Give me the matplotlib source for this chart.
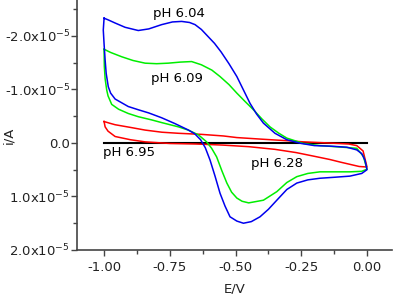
import matplotlib
matplotlib.use("Agg")
import matplotlib.pyplot as plt
from matplotlib.ticker import FixedLocator, FixedFormatter, MultipleLocator

plt.rcParams['font.family'] = ['DejaVu Sans']
plt.rcParams['axes.unicode_minus'] = False

SCALE = 1e-5

# pH 6.04 (blue) : potential (V) and current (units of 1e-5 A)
blue_E = [-1.000, -0.985, -0.958, -0.920, -0.870, -0.830, -0.781, -0.740, -0.705, -0.675,
          -0.654, -0.630, -0.605, -0.580, -0.555, -0.525, -0.495, -0.470, -0.445, -0.420,
          -0.394, -0.350, -0.305, -0.250, -0.200, -0.140, -0.077, -0.039, -0.020, -0.008,
          0.000,
          -0.020, -0.065, -0.120, -0.179, -0.225, -0.267, -0.305, -0.343, -0.375, -0.407,
          -0.440, -0.470, -0.495, -0.521, -0.540, -0.559, -0.578, -0.597, -0.615, -0.633,
          -0.655, -0.679, -0.730, -0.781, -0.830, -0.870, -0.908, -0.933, -0.958, -0.975,
          -0.984, -0.992, -0.996, -1.000, -1.003, -1.000]
blue_i = [-2.33, -2.30, -2.24, -2.16, -2.10, -2.13, -2.21, -2.26, -2.27, -2.25,
          -2.21, -2.12, -1.99, -1.86, -1.70, -1.48, -1.24, -0.99, -0.74, -0.54,
          -0.37, -0.18, -0.06, 0.01, 0.05, 0.06, 0.08, 0.13, 0.20, 0.32,
          0.50,
          0.57, 0.62, 0.64, 0.66, 0.69, 0.75, 0.87, 1.07, 1.24, 1.38,
          1.47, 1.50, 1.46, 1.38, 1.18, 0.94, 0.62, 0.32, 0.09, -0.06,
          -0.17, -0.24, -0.36, -0.47, -0.56, -0.62, -0.68, -0.75, -0.82, -0.93,
          -1.05, -1.30, -1.55, -1.85, -2.11, -2.33]

# pH 6.09 (green)
green_E = [-1.000, -0.975, -0.933, -0.890, -0.844, -0.800, -0.756, -0.710, -0.667, -0.630,
           -0.590, -0.559, -0.525, -0.495, -0.465, -0.432, -0.400, -0.369, -0.335, -0.305,
           -0.242, -0.180, -0.120, -0.039, -0.014, 0.000,
           -0.020, -0.065, -0.120, -0.179, -0.225, -0.267, -0.305, -0.343, -0.394, -0.450,
           -0.475, -0.495, -0.515, -0.533, -0.552, -0.572, -0.591, -0.610, -0.641, -0.680,
           -0.717, -0.781, -0.819, -0.870, -0.908, -0.945, -0.971, -0.985, -0.990, -0.996,
           -0.999, -1.000]
green_i = [-1.75, -1.69, -1.61, -1.54, -1.49, -1.48, -1.49, -1.51, -1.52, -1.46,
           -1.36, -1.24, -1.09, -0.93, -0.78, -0.62, -0.45, -0.30, -0.18, -0.09,
           0.01, 0.05, 0.07, 0.10, 0.25, 0.49,
           0.53, 0.54, 0.54, 0.54, 0.57, 0.63, 0.74, 0.91, 1.07, 1.12,
           1.09, 1.03, 0.92, 0.75, 0.52, 0.26, 0.10, -0.02, -0.15, -0.24,
           -0.30, -0.38, -0.43, -0.49, -0.55, -0.63, -0.72, -0.88, -0.99, -1.20,
           -1.43, -1.75]

# pH 6.28 (red)
red_E = [-1.000, -0.980, -0.958, -0.900, -0.844, -0.780, -0.717, -0.630, -0.546, -0.495,
         -0.400, -0.300, -0.242, -0.150, -0.070, -0.039, -0.015, 0.000,
         -0.030, -0.065, -0.100, -0.141, -0.200, -0.270, -0.350, -0.450, -0.550, -0.650,
         -0.750, -0.844, -0.900, -0.958, -0.985, -0.996, -1.000]
red_i = [-0.40, -0.37, -0.34, -0.29, -0.24, -0.20, -0.18, -0.16, -0.13, -0.10,
         -0.07, -0.04, -0.02, 0.00, 0.02, 0.05, 0.15, 0.45,
         0.44, 0.40, 0.36, 0.31, 0.25, 0.18, 0.12, 0.07, 0.04, 0.02,
         0.01, -0.02, -0.06, -0.12, -0.22, -0.30, -0.40]

# pH 6.95 (black)
black_E = [-1.00, -0.75, -0.50, -0.25, 0.00]
black_i = [0.0, 0.0, 0.0, 0.0, 0.0]

labels = ["pH 6.04", "pH 6.09", "pH 6.95", "pH 6.28"]

y_ticks = [-2.0, -1.0, 0.0, 1.0, 2.0]
y_tick_labels = [r"-2.0x10$^{-5}$", r"-1.0x10$^{-5}$", "0.0", r"1.0x10$^{-5}$", r"2.0x10$^{-5}$"]
x_ticks = [-1.00, -0.75, -0.50, -0.25, 0.00]
x_tick_labels = ["-1.00", "-0.75", "-0.50", "-0.25", "0.00"]

fig = plt.figure(figsize=(3.94, 2.94), dpi=100)
ax = fig.add_axes([0.1954, 0.1497, 0.7995, 0.8503])

lw = 1.1
ax.plot(black_E, [v * SCALE for v in black_i], color='black', lw=1.5)
ax.plot(red_E, [v * SCALE for v in red_i], color='#ff0000', lw=lw)
ax.plot(green_E, [v * SCALE for v in green_i], color='#00ee00', lw=lw)
ax.plot(blue_E, [v * SCALE for v in blue_i], color='#0000ee', lw=lw)

fs = 9.5
ax.text(-0.8125, -2.36 * SCALE, labels[0], fontsize=fs, ha='left', va='baseline')
ax.text(-0.821, -1.146 * SCALE, labels[1], fontsize=fs, ha='left', va='baseline')
ax.text(-1.004, 0.243 * SCALE, labels[2], fontsize=fs, ha='left', va='baseline')
ax.text(-0.441, 0.443 * SCALE, labels[3], fontsize=fs, ha='left', va='baseline')

ax.set_xlim(-1.103, 0.095)
ax.set_ylim(2.0 * SCALE, -2.67 * SCALE)

ax.xaxis.set_major_locator(FixedLocator(x_ticks))
ax.xaxis.set_major_formatter(FixedFormatter(x_tick_labels))
ax.xaxis.set_minor_locator(MultipleLocator(0.125))
ax.yaxis.set_major_locator(FixedLocator([v * SCALE for v in y_ticks]))
ax.yaxis.set_major_formatter(FixedFormatter(y_tick_labels))
ax.yaxis.set_minor_locator(MultipleLocator(0.5 * SCALE))

for s in ['top', 'right']:
    ax.spines[s].set_visible(False)
for s in ['left', 'bottom']:
    ax.spines[s].set_color('#444444')
    ax.spines[s].set_linewidth(1.2)

ax.tick_params(which='major', direction='out', length=4, width=1.0, color='#444444',
               labelsize=fs, labelcolor='#222222')
ax.tick_params(which='minor', direction='out', length=3, width=1.0, color='#444444')
ax.tick_params(axis='y', which='major', pad=1)
ax.tick_params(axis='x', which='major', pad=4)

ax.set_xlabel("E/V", fontsize=fs, color='#222222')
ax.set_ylabel("i/A", fontsize=fs, color='#222222')
ax.xaxis.set_label_coords(0.5, -0.13)
ax.yaxis.set_label_coords(-0.195, 0.46)

fig.savefig("out.png", dpi=100)
